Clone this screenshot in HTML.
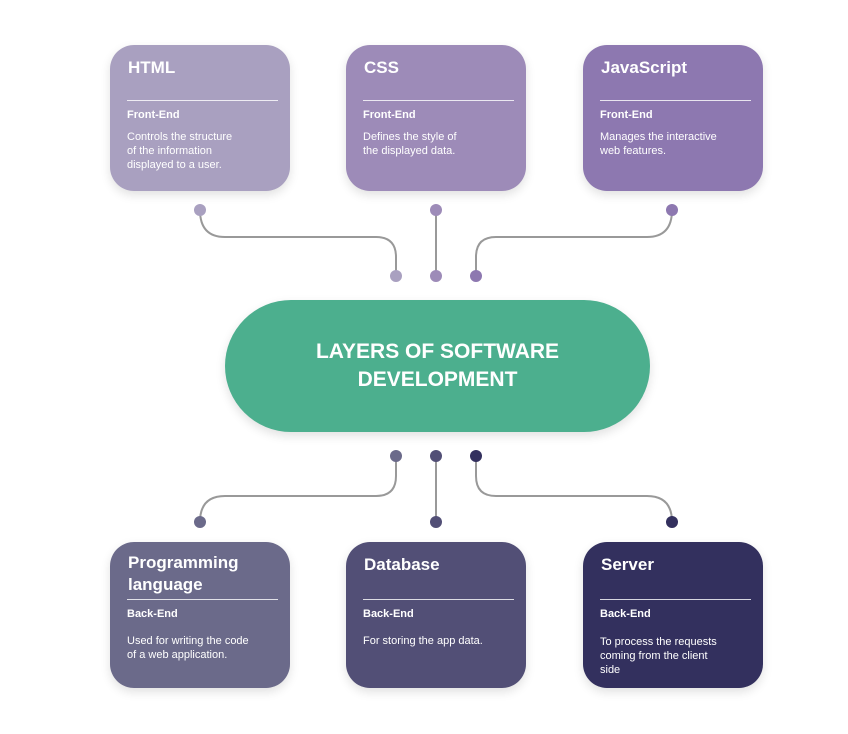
<!DOCTYPE html>
<html><head><style>
body{margin:0;width:848px;height:734px;background:#fff;font-family:"Liberation Sans",sans-serif;position:relative;overflow:hidden}
.b{position:absolute;width:180px;height:146px;border-radius:24px;color:#fff;box-shadow:0 4px 10px rgba(0,0,0,.12)}
.t{position:absolute;left:18px;top:12px;font-size:17px;font-weight:bold;line-height:22px}
.l{position:absolute;left:17px;right:12px;height:1px;background:rgba(255,255,255,.8)}
.s{position:absolute;left:17px;font-size:11px;font-weight:bold}
.d{position:absolute;left:17px;font-size:11px;line-height:14px;width:160px}
.pill{position:absolute;left:225px;top:300px;width:425px;height:132px;border-radius:66px;background:#4caf8e;color:#fff;font-size:21px;font-weight:bold;text-align:center;display:flex;align-items:center;justify-content:center;line-height:28px;box-shadow:0 4px 10px rgba(0,0,0,.12)}
</style></head><body>
<svg width="848" height="734" style="position:absolute;left:0;top:0">
<g fill="none" stroke="#999" stroke-width="2">
<path d="M200 210 Q200 237 225 237 H376 Q396 237 396 257 V276"/>
<path d="M436 210 V276"/>
<path d="M672 210 Q672 237 647 237 H496 Q476 237 476 257 V276"/>
<path d="M396 456 V476 Q396 496 376 496 H225 Q200 496 200 522"/>
<path d="M436 456 V522"/>
<path d="M476 456 V476 Q476 496 496 496 H647 Q672 496 672 522"/>
</g>
<circle cx="200" cy="210" r="6" fill="#a9a0c0"/><circle cx="436" cy="210" r="6" fill="#9d8bb8"/><circle cx="672" cy="210" r="6" fill="#8d78b0"/>
<circle cx="396" cy="276" r="6" fill="#a9a0c0"/><circle cx="436" cy="276" r="6" fill="#9d8bb8"/><circle cx="476" cy="276" r="6" fill="#8d78b0"/>
<circle cx="396" cy="456" r="6" fill="#6b6a8a"/><circle cx="436" cy="456" r="6" fill="#524f76"/><circle cx="476" cy="456" r="6" fill="#33305e"/>
<circle cx="200" cy="522" r="6" fill="#6b6a8a"/><circle cx="436" cy="522" r="6" fill="#524f76"/><circle cx="672" cy="522" r="6" fill="#33305e"/>
</svg>
<div class="b" style="left:110px;top:45px;background:#a9a0c0"><div class="t">HTML</div><div class="l" style="top:55px"></div><div class="s" style="top:64px">Front-End</div><div class="d" style="top:85px">Controls the structure<br>of the information<br>displayed to a user.</div></div>
<div class="b" style="left:346px;top:45px;background:#9d8bb8"><div class="t">CSS</div><div class="l" style="top:55px"></div><div class="s" style="top:64px">Front-End</div><div class="d" style="top:85px">Defines the style of<br>the displayed data.</div></div>
<div class="b" style="left:583px;top:45px;background:#8d78b0"><div class="t">JavaScript</div><div class="l" style="top:55px"></div><div class="s" style="top:64px">Front-End</div><div class="d" style="top:85px">Manages the interactive<br>web features.</div></div>
<div class="pill">LAYERS OF SOFTWARE<br>DEVELOPMENT</div>
<div class="b" style="left:110px;top:542px;background:#6b6a8a"><div class="t" style="top:10px">Programming<br>language</div><div class="l" style="top:57px"></div><div class="s" style="top:66px">Back-End</div><div class="d" style="top:92px">Used for writing the code<br>of a web application.</div></div>
<div class="b" style="left:346px;top:542px;background:#524f76"><div class="t">Database</div><div class="l" style="top:57px"></div><div class="s" style="top:66px">Back-End</div><div class="d" style="top:92px">For storing the app data.</div></div>
<div class="b" style="left:583px;top:542px;background:#33305e"><div class="t">Server</div><div class="l" style="top:57px"></div><div class="s" style="top:66px">Back-End</div><div class="d" style="top:93px">To process the requests<br>coming from the client<br>side</div></div>
</body></html>
